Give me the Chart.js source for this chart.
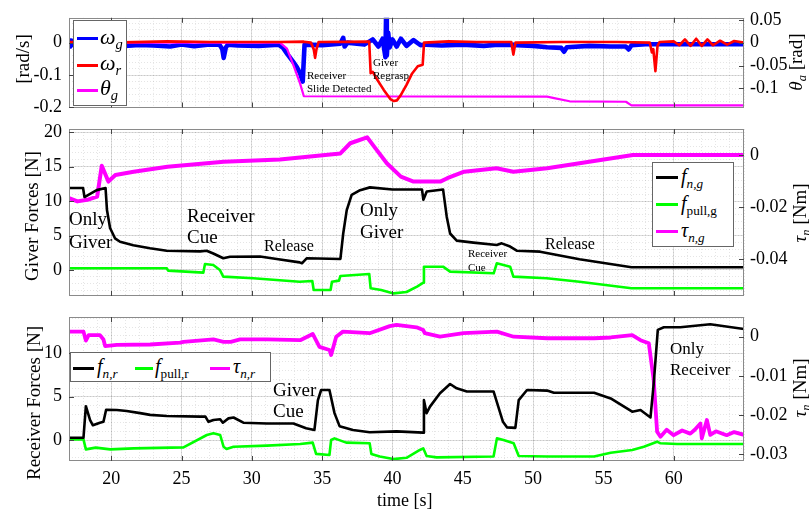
<!DOCTYPE html>
<html><head><meta charset="utf-8">
<script src="https://cdn.jsdelivr.net/npm/chart.js@4.4.1/dist/chart.umd.min.js"></script>
<style>
html,body{margin:0;padding:0;background:#fff;}
#wrap{position:relative;width:809px;height:510px;overflow:hidden;font-family:"Liberation Serif",serif;background:#fff;}
canvas{position:absolute;left:0;top:0;}
.t{position:absolute;white-space:nowrap;color:#000;line-height:1;z-index:5;}
.rot{transform:translate(-50%,-50%) rotate(-90deg);}
.leg{position:absolute;background:#fff;border:1px solid #666;z-index:4;box-sizing:border-box;}
.ln{position:absolute;height:3px;z-index:5;}
sub{font-size:66%;vertical-align:-0.35em;line-height:0;}
i{font-style:italic;}
</style></head>
<body>
<div id="wrap">
<canvas id="c1" width="809" height="510"></canvas>
<canvas id="c2" width="809" height="510"></canvas>
<canvas id="c3" width="809" height="510"></canvas>
</div>
<script>
// ---------- shared axis values ----------
const xTickVals = [20, 25, 30, 35, 40, 45, 50, 55, 60];
const xTickLabels = ['20', '25', '30', '35', '40', '45', '50', '55', '60'];

// ---------- panel 1 : angular velocities / angle ----------
const p1LeftTicks = [-0.2, -0.1, 0];
const p1LeftLabels = ['-0.2', '-0.1', '0'];
const p1RightTicks = [-0.1, -0.05, 0, 0.05];
const p1RightLabels = ['-0.1', '-0.05', '0', '0.05'];

const tOmegaG = [17.0,17.1,17.2,17.3,18.5,19.5,21,22,23,24.2,25,25.9,27,27.7,27.9,28.0,28.15,28.3,29,30.5,31.9,32.2,32.49,32.97,33.2,33.44,33.62,33.7,33.75,35,36.3,36.5,36.6,36.8,38,38.6,39.0,39.3,39.5,39.55,39.6,39.7,39.8,40,40.3,40.6,41,41.5,42,42.4,43.5,45,46.5,47.5,48.5,50,51,52,52.2,52.4,54,55.5,56.6,56.8,57.0,58,65];
const omegaG = [0.008,-0.012,0.006,-0.006,-0.01,-0.006,-0.01,-0.007,-0.009,-0.012,-0.006,-0.011,-0.006,-0.006,-0.02,-0.047,-0.015,-0.006,-0.009,-0.01,-0.006,-0.015,-0.033,-0.061,-0.075,-0.095,-0.12,-0.05,-0.006,-0.008,-0.003,0.015,-0.012,0,-0.006,0.01,-0.012,0.012,-0.045,0.09,-0.04,0.03,-0.015,0.01,-0.012,0.012,-0.01,0.008,-0.008,-0.006,-0.009,-0.006,-0.01,-0.006,-0.007,-0.01,-0.014,-0.016,-0.028,-0.014,-0.01,-0.012,-0.012,-0.021,-0.008,-0.005,-0.005];

const tOmegaR = [17,20,24,27,32,33.7,34.2,34.4,34.5,34.6,34.75,38.35,38.45,38.6,38.9,39.37,39.85,40.1,40.32,40.56,41.0,41.4,41.8,42.15,42.25,44,46,48.45,48.6,48.75,52,56,58.3,58.45,58.55,58.7,58.85,59.0,60,60.4,60.8,61.2,61.6,62,62.4,62.8,63.3,63.8,64.3,65];
const omegaR = [0.002,0,0.004,0.002,0.002,0.003,0,-0.02,-0.047,-0.02,0.002,0.003,-0.094,-0.09,-0.113,-0.145,-0.174,-0.18,-0.178,-0.164,-0.13,-0.095,-0.073,-0.068,0,0.004,0.002,0.002,-0.037,0,0.002,0.002,0,-0.03,-0.02,-0.088,-0.01,0.002,0.004,-0.008,0.01,-0.01,0.012,-0.01,0.01,-0.008,0.006,-0.006,0.005,0];

const tThetaG = [17,32.0,32.5,32.97,33.44,33.7,51.0,51.5,52.6,56.6,57.0,65];
const thetaG = [0,0,-0.013,-0.05,-0.09,-0.117,-0.118,-0.121,-0.128,-0.129,-0.137,-0.137];

// ---------- panel 2 : giver forces ----------
const p2LeftTicks = [0, 5, 10, 15, 20];
const p2LeftLabels = ['0', '5', '10', '15', '20'];
const p2RightTicks = [-0.04, -0.02, 0];
const p2RightLabels = ['-0.04', '-0.02', '0'];

const tFnG = [17,18.0,18.1,18.97,19.6,19.7,19.92,20.27,20.63,21.57,22.76,23.95,26.32,26.79,27.26,27.97,28.45,30.58,31.77,33.4,33.56,33.9,36.3,36.5,36.75,37.1,37.7,38.4,40.0,42.1,42.2,42.44,43.6,43.86,44.1,44.57,45.76,47.42,47.77,48.37,48.84,50.5,53.3,57.0,65];
const fnG = [11.9,11.9,10.6,11.6,11.9,8.7,6.1,4.6,4.1,3.6,3.15,2.8,2.7,2.8,2.4,1.7,1.93,1.95,1.6,1.1,0.97,1.7,1.6,5.3,8.7,10.9,11.6,12.0,11.7,11.7,10.2,11.4,11.7,7.75,5.3,4.26,3.97,3.63,3.87,3.4,2.8,2.66,1.55,0.39,0.39];

const tFpullG = [17,23.95,24.05,26.55,26.67,27.26,27.73,27.97,30.1,33.4,34.3,34.4,35.6,35.7,36.2,36.3,38.35,38.45,39.2,40.08,41.0,41.75,42.2,42.24,43.6,44.1,47.2,47.42,48.37,48.6,50.97,53.3,57.0,65];
const fpullG = [0.25,0.25,-0.1,-0.39,0.87,0.73,0,-0.97,-1.2,-1.7,-1.6,-2.9,-2.9,-1.7,-1.55,-0.87,-0.58,-2.66,-2.9,-3.4,-3.2,-2.42,-1.84,0.48,0.48,-0.24,-0.48,0.97,0.48,-0.97,-1.2,-1.7,-2.66,-2.66];

const tTauG = [17,17.6,18.3,19.0,19.33,19.8,20.3,21.6,24.0,28.0,32.0,36.3,37.0,38.2,38.7,39.6,40.6,41.5,43.4,43.9,45.1,47.4,48.6,51.0,57.1,65];
const tauG = [-0.0165,-0.0178,-0.0172,-0.016,-0.0041,-0.0102,-0.0077,-0.0064,-0.0045,-0.0026,-0.0017,0.0006,0.0045,0.0068,0.0032,-0.0032,-0.0083,-0.0102,-0.0102,-0.0089,-0.0064,-0.0051,-0.0064,-0.0051,0,0];

// ---------- panel 3 : receiver forces ----------
const p3LeftTicks = [0, 5, 10];
const p3LeftLabels = ['0', '5', '10'];
const p3RightTicks = [-0.03, -0.02, -0.01, 0];
const p3RightLabels = ['-0.03', '-0.02', '-0.01', '0'];

const tFnR = [17,18.03,18.2,18.5,18.7,19.2,19.45,19.64,20.4,21.1,22.06,22.77,23.96,26.33,26.7,26.92,27.27,27.75,27.94,28.34,28.7,29.4,31.07,32.96,33.86,34.45,34.7,34.93,35.52,35.88,36.24,37.19,38.38,40.29,42.19,42.24,42.43,42.67,43.38,44.1,44.57,45.29,47.19,47.86,48.14,48.74,48.98,49.57,51.0,51.48,54.34,55.52,57.05,57.64,58.35,58.58,58.87,59.3,60.47,62.6,65];
const fnR = [0.27,0.27,3.9,2.3,1.7,2.0,2.1,3.5,3.46,3.35,3.1,2.9,2.77,2.7,2.7,2.1,2.3,2.4,2.0,2.5,2.6,2.0,1.9,1.9,1.35,1.15,4.6,5.77,5.77,3.1,1.6,1.15,0.9,1.0,0.85,4.6,3.1,3.85,5.4,6.46,5.96,5.6,5.6,2.1,1.46,1.4,4.6,5.77,5.7,5.46,5.46,4.8,3.27,3.46,2.6,6.5,12.7,13.0,13.0,13.35,12.8];

const tFpullR = [17,18.03,18.2,18.9,19.93,21.6,25.14,26.8,27.27,27.75,27.99,28.2,28.7,31.07,33.44,34.33,34.57,35.52,35.64,35.88,36.71,38.38,38.5,39.1,40.05,41.0,41.95,42.19,42.43,43.14,47.19,47.43,47.9,48.62,48.98,51.0,54.34,55.52,57.05,57.88,58.82,59.06,60.24,65];
const fpullR = [0.08,0.08,-1.08,-0.88,-1.08,-0.96,-0.85,0.58,0.77,0.58,-0.77,-1.04,-0.77,-0.65,-0.46,-0.3,-1.6,-1.73,0,0.19,-0.3,-0.38,-1.6,-1.9,-2.2,-2.05,-1.15,-0.96,-1.85,-2.0,-1.9,0.19,0,-0.38,-1.85,-1.9,-1.9,-1.46,-1.15,-0.77,-0.19,-0.38,-0.46,-0.46];

const tTauR = [17,18.03,18.2,18.4,19.2,19.45,19.57,20.4,22.77,24.9,25.14,27.27,27.99,28.5,29.17,31.07,33.44,34.33,34.81,35.52,35.64,36.0,36.48,38.38,39.81,40.29,41.71,42.19,42.3,43.38,45.05,47.43,48.62,51.0,54.34,55.52,57.05,57.64,58.23,58.58,58.82,59.06,59.5,60.0,60.6,61.18,61.5,61.9,62.0,62.36,62.6,63.0,63.77,64.3,65];
const tauR = [0.0013,0.0013,-0.001,0.0004,0.0004,-0.0007,-0.0024,-0.0021,-0.002,-0.0015,-0.0013,-0.0007,-0.0013,-0.0013,-0.0007,-0.0007,-0.0009,0.0007,-0.0026,-0.0034,-0.0047,0,0.0013,0.0009,0.0027,0.003,0.0024,0.0017,0.0009,0,0.0009,0.0013,0,-0.0004,-0.0004,-0.0002,0.0004,-0.0009,-0.0017,-0.0111,-0.0243,-0.0256,-0.0238,-0.0252,-0.024,-0.0248,-0.0238,-0.0222,-0.026,-0.0213,-0.0251,-0.0242,-0.0252,-0.0244,-0.0251];

// ---------- helpers ----------
const FONT = "'Liberation Serif', serif";
const pts = (t, v) => t.map((x, i) => ({x: x, y: v[i]}));
const range = (a, b, s) => { const r = []; for (let v = a; v <= b + 1e-9; v += s) r.push(+v.toFixed(6)); return r; };
const MAJOR = 'rgba(0,0,0,0.13)';
const MINOR = 'rgba(0,0,0,0.10)';

const framePlugin = {
  id: 'frame',
  afterDraw(c) {
    const a = c.chartArea, ctx = c.ctx;
    ctx.save();
    ctx.strokeStyle = '#8a8a8a'; ctx.lineWidth = 1;
    ctx.strokeRect(Math.round(a.left) + 0.5, Math.round(a.top) + 0.5, Math.round(a.right - a.left) - 1, Math.round(a.bottom - a.top) - 1);
    ctx.strokeStyle = '#444';
    const L = 5;
    const sx = c.scales.x;
    sx.ticks.forEach(t => { const x = Math.round(sx.getPixelForValue(t.value)) + 0.5;
      ctx.beginPath(); ctx.moveTo(x, a.top); ctx.lineTo(x, a.top + L); ctx.moveTo(x, a.bottom); ctx.lineTo(x, a.bottom - L); ctx.stroke(); });
    const sy = c.scales.y;
    sy.ticks.forEach(t => { const y = Math.round(sy.getPixelForValue(t.value)) + 0.5;
      ctx.beginPath(); ctx.moveTo(a.left, y); ctx.lineTo(a.left + L, y); ctx.stroke(); });
    const s2 = c.scales.y2;
    s2.ticks.forEach(t => { const y = Math.round(s2.getPixelForValue(t.value)) + 0.5;
      ctx.beginPath(); ctx.moveTo(a.right - L, y); ctx.lineTo(a.right, y); ctx.stroke(); });
    ctx.restore();
  }
};

function makePanel(id, o) {
  const setTicks = vals => s => { s.ticks = vals.map(v => ({value: v})); };
  const lab = arr => (v, i) => arr[i];
  return new Chart(document.getElementById(id), {
    type: 'line',
    data: {datasets: o.datasets},
    options: {
      responsive: false, animation: false, devicePixelRatio: 1,
      events: [],
      layout: {padding: {top: o.top, bottom: 510 - o.bottom - (o.showX ? 30 : 0), left: 0, right: 0}},
      plugins: {legend: {display: false}, tooltip: {enabled: false}},
      elements: {point: {radius: 0}, line: {tension: 0, borderJoinStyle: 'round', borderCapStyle: 'round'}},
      scales: {
        xm: {type: 'linear', position: 'bottom', min: 17, max: 65,
             afterBuildTicks: setTicks(range(17, 65, 1)), ticks: {display: false},
             grid: {color: MINOR, drawTicks: false, lineWidth: 1}, border: {display: false, dash: [1, 2]},
             afterFit: s => { s.height = 0; }},
        x: {type: 'linear', position: 'bottom', min: 17, max: 65,
            afterBuildTicks: setTicks(xTickVals),
            ticks: {display: o.showX, autoSkip: false, maxRotation: 0, padding: 7, color: '#000',
                    font: {family: FONT, size: 18}, callback: lab(xTickLabels)},
            grid: {color: MAJOR, drawTicks: false}, border: {display: false},
            afterFit: s => { s.height = o.showX ? 30 : 0; }},
        ym: {type: 'linear', position: 'left', min: o.yl.min, max: o.yl.max,
             afterBuildTicks: setTicks(o.yl.minor), ticks: {display: false},
             grid: {color: MINOR, drawTicks: false}, border: {display: false, dash: [1, 2]},
             afterFit: s => { s.width = 0; }},
        y: {type: 'linear', position: 'left', min: o.yl.min, max: o.yl.max,
            afterBuildTicks: setTicks(o.yl.ticks),
            ticks: {autoSkip: false, padding: 7, color: '#000', font: {family: FONT, size: 18}, callback: lab(o.yl.labels)},
            grid: {color: MAJOR, drawTicks: false}, border: {display: false},
            afterFit: s => { s.width = 69; }},
        y2: {type: 'linear', position: 'right', min: o.yr.min, max: o.yr.max,
             afterBuildTicks: setTicks(o.yr.ticks),
             ticks: {autoSkip: false, padding: 6, color: '#000', font: {family: FONT, size: 18}, callback: lab(o.yr.labels)},
             grid: {display: false, drawTicks: false}, border: {display: false},
             afterFit: s => { s.width = 809 - 744; }}
      }
    },
    plugins: [framePlugin]
  });
}

const ds = (data, color, w, axis, order) => ({data: data, borderColor: color, backgroundColor: color,
  borderWidth: w, yAxisID: axis, xAxisID: 'x', order: order, fill: false, pointRadius: 0});

makePanel('c1', {
  top: 9.5, bottom: 107.5, showX: false,
  yl: {min: -0.2, max: 0.0766, ticks: p1LeftTicks, labels: p1LeftLabels, minor: range(-0.2, 0.06, 0.02)},
  yr: {min: -0.1416, max: 0.0544, ticks: p1RightTicks, labels: p1RightLabels},
  datasets: [
    ds(pts(tOmegaR, omegaR), '#ff0000', 2.6, 'y', 0),
    ds(pts(tThetaG, thetaG), '#ff00ff', 2.2, 'y2', 1),
    ds(pts(tOmegaG, omegaG), '#0000ff', 4.6, 'y', 2)
  ]
});

makePanel('c2', {
  top: 129, bottom: 296, showX: false,
  yl: {min: -3.78, max: 20.48, ticks: p2LeftTicks, labels: p2LeftLabels, minor: range(-3, 20, 1)},
  yr: {min: -0.0541, max: 0.00997, ticks: p2RightTicks, labels: p2RightLabels},
  datasets: [
    ds(pts(tFnG, fnG), '#000000', 2.6, 'y', 0),
    ds(pts(tFpullG, fpullG), '#00ff00', 2.6, 'y', 1),
    ds(pts(tTauG, tauG), '#ff00ff', 4, 'y2', 2)
  ]
});

makePanel('c3', {
  top: 317, bottom: 461, showX: true,
  yl: {min: -2.42, max: 14.19, ticks: p3LeftTicks, labels: p3LeftLabels, minor: range(-2, 14, 1)},
  yr: {min: -0.0318, max: 0.00504, ticks: p3RightTicks, labels: p3RightLabels},
  datasets: [
    ds(pts(tFnR, fnR), '#000000', 2.6, 'y', 0),
    ds(pts(tFpullR, fpullR), '#00ff00', 2.6, 'y', 1),
    ds(pts(tTauR, tauR), '#ff00ff', 3.8, 'y2', 2)
  ]
});

// ---------- text overlays (axis titles, legends, annotations) ----------
const wrap = document.getElementById('wrap');
function addText(html, x, y, size, extra) {
  const d = document.createElement('div');
  d.className = 't' + (extra && extra.rot ? ' rot' : '');
  d.innerHTML = html;
  d.style.fontSize = size + 'px';
  if (extra && extra.rot) { d.style.left = x + 'px'; d.style.top = y + 'px'; }
  else { d.style.left = x + 'px'; d.style.top = (y - size * 0.5) + 'px'; }
  wrap.appendChild(d);
  return d;
}
function addBox(x, y, w, h) {
  const d = document.createElement('div'); d.className = 'leg';
  d.style.left = x + 'px'; d.style.top = y + 'px'; d.style.width = w + 'px'; d.style.height = h + 'px';
  wrap.appendChild(d);
}
function addLine(x1, x2, y, color) {
  const d = document.createElement('div'); d.className = 'ln';
  d.style.left = x1 + 'px'; d.style.top = (y - 1.5) + 'px'; d.style.width = (x2 - x1) + 'px'; d.style.background = color;
  wrap.appendChild(d);
}

// axis titles
addText('[rad/s]', 22, 59, 19, {rot: true});
addText('Giver Forces [N]', 31, 216, 19, {rot: true});
addText('Receiver Forces [N]', 33, 403, 19, {rot: true});
addText('<i>θ</i><sub><i>a</i></sub> [rad]', 795, 62, 19, {rot: true});
addText('<i>τ</i><sub><i>n</i></sub> [Nm]', 799, 213, 19, {rot: true});
addText('<i>τ</i><sub><i>n</i></sub> [Nm]', 799, 388, 19, {rot: true});
addText('time [s]', 377, 500, 18);

// legends
addBox(73, 20, 54, 86);
addLine(77, 98, 38, '#0000ff'); addText('<i>ω</i><sub><i>g</i></sub>', 100, 37, 22);
addLine(77, 98, 65, '#ff0000'); addText('<i>ω</i><sub><i>r</i></sub>', 100, 63, 22);
addLine(77, 98, 90, '#ff00ff'); addText('<i>θ</i><sub><i>g</i></sub>', 100, 88, 22);

addBox(652, 162, 82, 85);
addLine(656, 678, 177, '#000000'); addText('<i>f</i><sub><i>n,g</i></sub>', 681, 176, 20);
addLine(656, 678, 204, '#00ff00'); addText('<i>f</i><sub>pull,g</sub>', 681, 203, 20);
addLine(656, 678, 231, '#ff00ff'); addText('<i>τ</i><sub><i>n,g</i></sub>', 681, 230, 20);

addBox(70, 352, 201, 30);
addLine(73, 94, 368, '#000000'); addText('<i>f</i><sub><i>n,r</i></sub>', 97, 366, 20);
addLine(135, 153, 368, '#00ff00'); addText('<i>f</i><sub>pull,r</sub>', 155, 366, 20);
addLine(210, 230, 368, '#ff00ff'); addText('<i>τ</i><sub><i>n,r</i></sub>', 233, 366, 20);

// annotations
addText('Receiver', 307, 75, 11);
addText('Slide Detected', 307, 88, 11);
addText('Giver', 373, 62, 11);
addText('Regrasp', 373, 75, 11);

addText('Only', 69, 218, 19);
addText('Giver', 69, 241, 19);
addText('Receiver', 187, 215, 19);
addText('Cue', 187, 236, 19);
addText('Release', 264, 246, 16);
addText('Only', 360, 209, 19);
addText('Giver', 360, 231, 19);
addText('Receiver', 468, 253, 11);
addText('Cue', 468, 267, 11);
addText('Release', 545, 244, 16);

addText('Giver', 273, 389, 19);
addText('Cue', 273, 410, 19);
addText('Only', 670, 348, 17);
addText('Receiver', 670, 369, 17);
</script>
</body></html>
